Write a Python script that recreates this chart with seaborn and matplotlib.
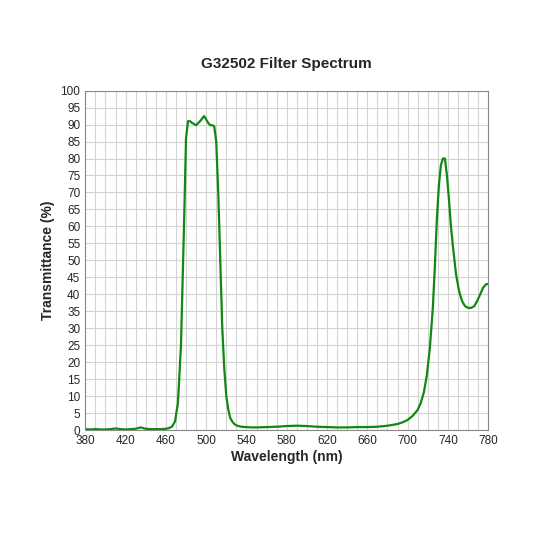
import matplotlib
matplotlib.use("Agg")
import matplotlib.pyplot as plt
import seaborn as sns
import pandas as pd

points = [(380,0.3),(385,0.2),(390,0.3),(395,0.2),(400,0.2),(405,0.3),(410,0.5),(415,0.3),(420,0.2),(425,0.3),
          (430,0.4),(435,0.8),(440,0.4),(445,0.3),(450,0.3),(455,0.3),(460,0.4),(463,0.6),(466,1.0),(469,2.5),
          (472,8),(475,25),(478,60),(480,86),(482,91),(484,91),(486,90.5),(490,89.8),(494,91),(498,92.5),
          (502,90.5),(504,89.8),(506,89.8),(508,89.5),(510,85),(512,70),(514,50),(516,30),(518,18),(520,10),
          (522,6),(524,3.5),(526,2.5),(528,1.8),(530,1.4),(532,1.2),(535,1.0),(540,0.9),(545,0.8),(550,0.8),
          (560,0.9),(570,1.0),(580,1.2),(590,1.3),(600,1.2),(610,1.0),(620,0.9),(630,0.8),(640,0.8),(650,0.9),
          (660,0.9),(670,1.0),(680,1.3),(690,1.8),(695,2.3),(700,3.0),(705,4.2),(710,6),(713,8),(716,11),
          (719,16),(722,24),(725,36),(727,48),(729,62),(731,72),(733,78),(735,80),(737,80),(739,75),
          (741,68),(743,60),(745,54),(748,46),(751,41),(754,38),(757,36.5),(760,36),(763,36),(766,36.5),
          (769,38),(772,40),(775,42),(778,43),(780,43)]
wavelength = [p[0] for p in points]
transmittance = [p[1] for p in points]

df = pd.DataFrame({"Wavelength": wavelength, "Transmittance": transmittance})

sns.set_style("white")
plt.rcParams['font.family'] = ['Liberation Sans', 'DejaVu Sans']
fig, ax = plt.subplots(figsize=(5.33, 5.33), dpi=100)
fig.subplots_adjust(left=0.16, right=0.916, top=0.83, bottom=0.193)
sns.lineplot(data=df, x="Wavelength", y="Transmittance", color="#118811", lw=1.6, ax=ax)
ax.set_xlim(380, 780)
ax.set_ylim(0, 100)
ax.set_xticks(range(380, 781, 40))
ax.set_xticks(range(380, 781, 10), minor=True)
ax.set_yticks(range(0, 101, 5))
ax.grid(True, which="both", color="#d4d4d4", lw=0.8)
ax.tick_params(labelsize=8.5, length=0)
for s in ax.spines.values():
    s.set_color("#888888")
ax.set_xlabel("Wavelength (nm)", fontsize=10, fontweight="bold", labelpad=2)
ax.set_ylabel("Transmittance (%)", fontsize=10, fontweight="bold")
ax.set_title("G32502 Filter Spectrum", fontsize=11, fontweight="bold", pad=16)
fig.savefig("out.png", dpi=100)
